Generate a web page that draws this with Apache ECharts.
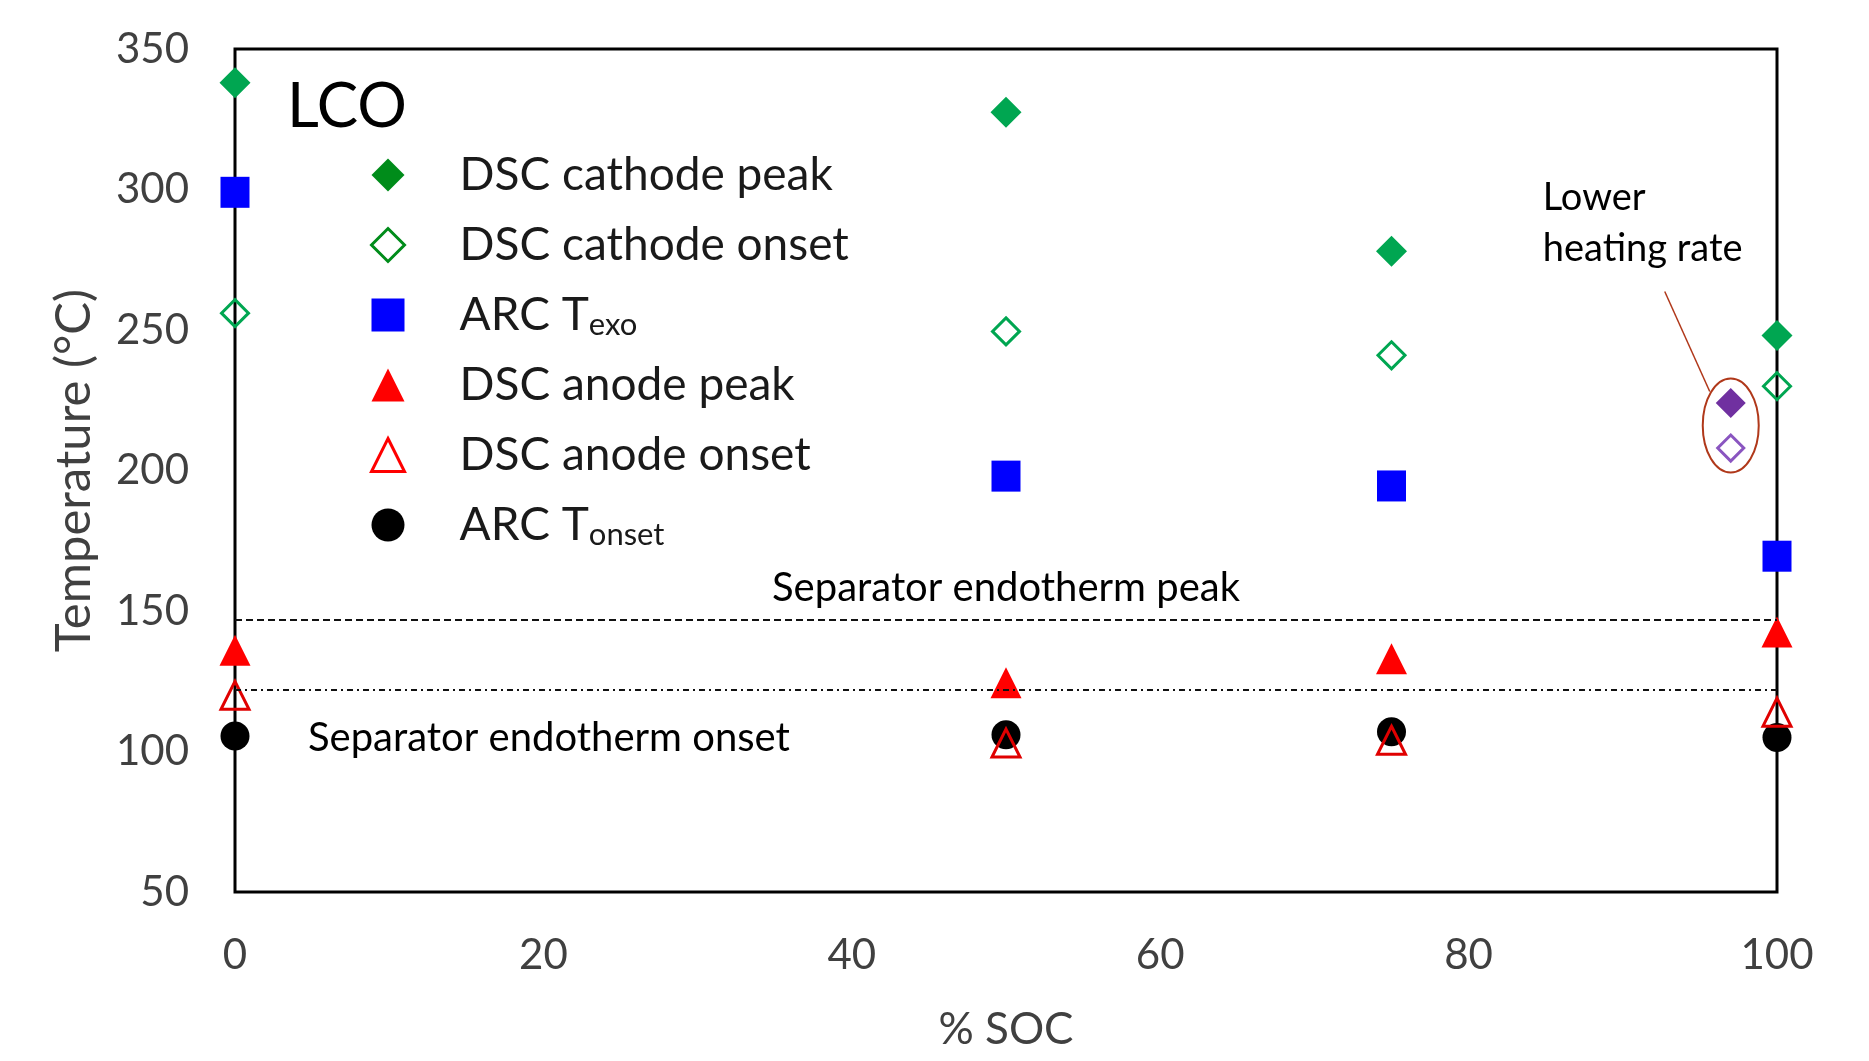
<!DOCTYPE html>
<html><head><meta charset="utf-8">
<script src="https://cdn.jsdelivr.net/npm/echarts@6/dist/echarts.min.js"></script>
<style>html,body{margin:0;padding:0;background:#fff}#c{width:1869px;height:1061px}</style>
</head><body><div id="c"></div>
<script>
// ---- data ----
const soc = [0, 50, 75, 100];
const dscCathodePeak = [338, 327.5, 278, 248];
const dscCathodeOnset = [256, 249.5, 241, 230];
const arcTexo = [299, 198, 194.5, 169.5];
const dscAnodePeak = [136, 124.5, 133, 142.5];
const dscAnodeOnset = [120, 103, 104, 114];
const arcTonset = [105.5, 106, 107, 105];
const lowerRateSoc = [97];
const lowerRatePeak = [224];
const lowerRateOnset = [208];
const separatorPeak = 147;
const separatorOnset = 122;
const xTicks = [0, 20, 40, 60, 80, 100];
const yTicks = [50, 100, 150, 200, 250, 300, 350];
const legendNames = ['DSC cathode peak', 'DSC cathode onset', 'ARC Texo', 'DSC anode peak', 'DSC anode onset', 'ARC Tonset'];

const pts = (xs, ys) => xs.map((x, i) => [x, ys[i]]);
const FONT = 'Lato';
const chart = echarts.init(document.getElementById('c'), null, {renderer: 'canvas'});

const dataGreen = '#00a651', legGreen = '#008c1a';

const option = {
  backgroundColor: '#fff',
  animation: false,
  title: {
    text: 'LCO', left: 287, top: 76, padding: 0,
    textStyle: {fontFamily: FONT, fontSize: 62, fontWeight: 'normal', color: '#000'}
  },
  grid: {left: 235, right: 92, top: 49, bottom: 169, show: true, borderColor: '#000', borderWidth: 3, backgroundColor: 'transparent'},
  xAxis: {
    type: 'value', min: xTicks[0], max: xTicks[xTicks.length - 1], interval: 20,
    name: '% SOC', nameLocation: 'middle', nameGap: 116,
    nameTextStyle: {fontFamily: FONT, fontSize: 44, color: '#404040'},
    axisLine: {show: false}, axisTick: {show: false}, splitLine: {show: false},
    axisLabel: {fontFamily: FONT, fontSize: 42, color: '#404040', margin: 42}
  },
  yAxis: {
    type: 'value', min: yTicks[0], max: yTicks[yTicks.length - 1], interval: 50,
    name: 'Temperature (°C)', nameLocation: 'middle', nameGap: 136, nameRotate: 90,
    nameTextStyle: {fontFamily: FONT, fontSize: 49, color: '#404040'},
    axisLine: {show: false}, axisTick: {show: false}, splitLine: {show: false},
    axisLabel: {fontFamily: FONT, fontSize: 42, color: '#404040', margin: 46}
  },
  legend: {
    orient: 'vertical', left: 370, top: 150, padding: 0,
    itemWidth: 33, itemHeight: 33, itemGap: 20,
    selectedMode: false,
    data: [
      {name: 'DSC cathode peak', icon: 'diamond', itemStyle: {color: legGreen}},
      {name: 'DSC cathode onset', icon: 'diamond', itemStyle: {color: 'rgba(0,0,0,0)', borderColor: legGreen, borderWidth: 3}},
      {name: 'ARC Texo', icon: 'rect'},
      {name: 'DSC anode peak', icon: 'triangle'},
      {name: 'DSC anode onset', icon: 'triangle', itemStyle: {color: 'rgba(0,0,0,0)', borderColor: '#ff0000', borderWidth: 3}},
      {name: 'ARC Tonset', icon: 'circle'}
    ],
    formatter: function (name) {
      if (name === 'ARC Texo') return 'ARC T{sub|exo}';
      if (name === 'ARC Tonset') return 'ARC T{sub|onset}';
      return name;
    },
    textStyle: {
      fontFamily: FONT, fontSize: 46, color: '#1a1a1a', lineHeight: 50, padding: [0, 0, 0, 50],
      rich: {sub: {fontFamily: FONT, fontSize: 31, color: '#1a1a1a', lineHeight: 34, verticalAlign: 'bottom'}}
    }
  },
  series: [
    {name: 'ARC Tonset', type: 'scatter', z: 2, symbol: 'circle', symbolSize: 29,
      itemStyle: {color: '#000', opacity: 1}, data: pts(soc, arcTonset),
      markLine: {
        silent: true, symbol: 'none', animation: false,
        data: [
          {yAxis: separatorPeak, lineStyle: {color: '#111', width: 2, type: [7, 4]},
            label: {show: true, position: 'insideMiddleTop', distance: 11, formatter: 'Separator endotherm peak',
              fontFamily: FONT, fontSize: 40, color: '#000'}},
          {yAxis: separatorOnset, lineStyle: {color: '#111', width: 2, type: [6, 4, 2, 4]},
            label: {show: true, position: 'insideStartBottom', distance: [73, 28], formatter: 'Separator endotherm onset',
              fontFamily: FONT, fontSize: 40, color: '#000'}}
        ]
      }
    },
    {name: 'DSC cathode peak', type: 'scatter', z: 3, symbol: 'diamond', symbolSize: 31,
      itemStyle: {color: dataGreen, opacity: 1}, data: pts(soc, dscCathodePeak)},
    {name: 'DSC cathode onset', type: 'scatter', z: 3, symbol: 'diamond', symbolSize: 27,
      itemStyle: {color: 'rgba(0,0,0,0)', borderColor: dataGreen, borderWidth: 3, opacity: 1}, data: pts(soc, dscCathodeOnset)},
    {name: 'ARC Texo', type: 'scatter', z: 3, symbol: 'rect', symbolSize: [29, 31],
      itemStyle: {color: '#0000ff', opacity: 1}, data: pts(soc, arcTexo)},
    {name: 'DSC anode peak', type: 'scatter', z: 3, symbol: 'triangle', symbolSize: 31,
      itemStyle: {color: '#ff0000', opacity: 1}, data: pts(soc, dscAnodePeak)},
    {name: 'DSC anode onset', type: 'scatter', z: 4, symbol: 'triangle', symbolSize: 28,
      itemStyle: {color: 'rgba(0,0,0,0)', borderColor: '#e00000', borderWidth: 3, opacity: 1}, data: pts(soc, dscAnodeOnset)},
    {name: 'Lower heating rate peak', type: 'scatter', z: 3, symbol: 'diamond', symbolSize: 30,
      itemStyle: {color: '#7030a0', opacity: 1}, data: pts(lowerRateSoc, lowerRatePeak)},
    {name: 'Lower heating rate onset', type: 'scatter', z: 3, symbol: 'diamond', symbolSize: 26,
      itemStyle: {color: 'rgba(0,0,0,0)', borderColor: '#8a55c0', borderWidth: 3, opacity: 1}, data: pts(lowerRateSoc, lowerRateOnset)},
    {
      name: 'annotation', type: 'custom', z: 5, silent: true,
      data: lowerRateSoc.map((x, i) => [x, (lowerRatePeak[i] + lowerRateOnset[i]) / 2]),
      renderItem: function (params, api) {
        const c = api.coord([api.value(0), api.value(1)]);
        return {
          type: 'group',
          children: [
            {type: 'ellipse', shape: {cx: c[0], cy: c[1], rx: 28, ry: 47},
              style: {fill: 'none', stroke: '#b0381a', lineWidth: 2}},
            {type: 'line', shape: {x1: c[0] - 66, y1: c[1] - 134, x2: c[0] - 21, y2: c[1] - 34},
              style: {stroke: '#b0381a', lineWidth: 1.5}},
            {type: 'text', x: c[0] - 188, y: c[1] - 253,
              style: {text: 'Lower\nheating rate', fontFamily: FONT, fontSize: 38, lineHeight: 51,
                fill: '#000', align: 'left', verticalAlign: 'top'}}
          ]
        };
      }
    }
  ]
};
chart.setOption(option);
</script>
</body></html>
